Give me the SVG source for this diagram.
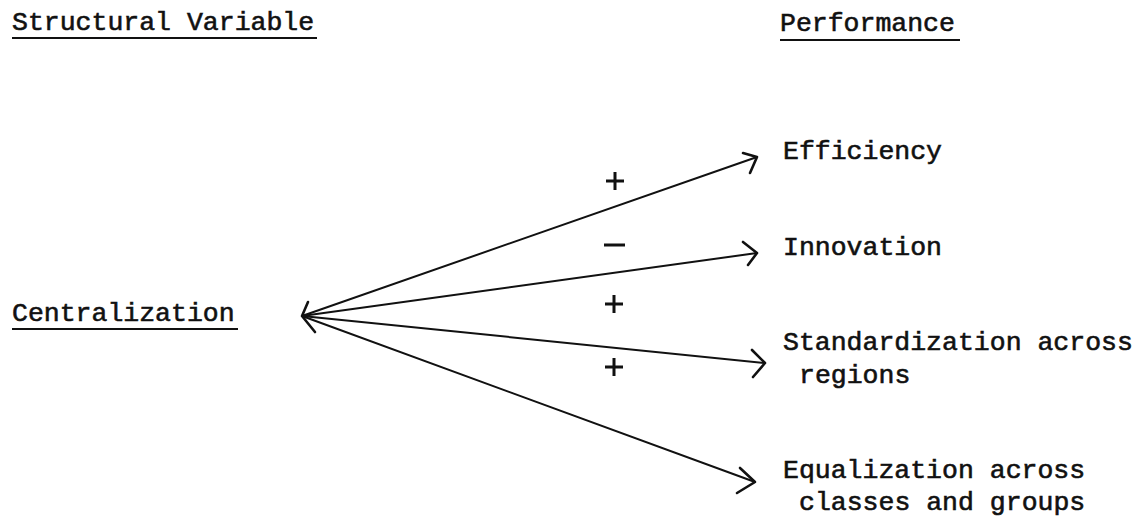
<svg xmlns="http://www.w3.org/2000/svg" width="1140" height="524" viewBox="0 0 1140 524">
  <style>
    .t { font-family: "Liberation Mono", "Courier New", monospace; font-size: 26.5px; fill: #111; stroke: #111; stroke-width: 0.6px; }
    .u { stroke: #111; stroke-width: 2; fill: none; }
    .ln { stroke: #111; stroke-width: 2; fill: none; stroke-linecap: round; }
    .hd { stroke: #111; stroke-width: 2.6; fill: none; stroke-linecap: round; stroke-linejoin: round; }
    .sg { stroke: #111; stroke-width: 3; fill: none; }
  </style>
  <rect width="1140" height="524" fill="#fff"/>

  <g id="heading-structural">
    <text class="t" x="12" y="30">Structural Variable</text>
    <line class="u" x1="12" y1="38" x2="317" y2="38"/>
  </g>
  <g id="heading-performance">
    <text class="t" x="780" y="31">Performance</text>
    <line class="u" x1="780" y1="40" x2="960" y2="40"/>
  </g>

  <g id="node-centralization">
    <text class="t" x="12" y="321">Centralization</text>
    <line class="u" x1="12" y1="329" x2="238" y2="329"/>
  </g>
  <g id="node-efficiency">
    <text class="t" x="783" y="159">Efficiency</text>
  </g>
  <g id="node-innovation">
    <text class="t" x="783" y="255">Innovation</text>
  </g>
  <g id="node-standardization">
    <text class="t" x="783" y="350">Standardization across</text>
    <text class="t" x="799" y="383">regions</text>
  </g>
  <g id="node-equalization">
    <text class="t" x="783" y="478">Equalization across</text>
    <text class="t" x="799" y="510">classes and groups</text>
  </g>

  <g id="connectors">
    <polyline class="hd" points="308,302 302,316 315,332"/>
    <line class="ln" x1="302" y1="316" x2="757" y2="157"/>
    <polyline class="hd" points="743,153 757,157 750,173"/>
    <line class="ln" x1="302" y1="316" x2="757" y2="253"/>
    <polyline class="hd" points="743,242 757,253 748,265"/>
    <line class="ln" x1="302" y1="316" x2="765" y2="363"/>
    <polyline class="hd" points="752,350 765,363 753,377"/>
    <line class="ln" x1="302" y1="316" x2="755" y2="482"/>
    <polyline class="hd" points="740,468 755,482 737,493"/>

    <g id="signs">
      <path class="sg" d="M606,181 H624 M615,172 V190"/>
      <path class="sg" d="M604,245 H625"/>
      <path class="sg" d="M605,304 H623 M614,295 V313"/>
      <path class="sg" d="M605,367 H623 M614,358 V376"/>
    </g>
  </g>
</svg>
